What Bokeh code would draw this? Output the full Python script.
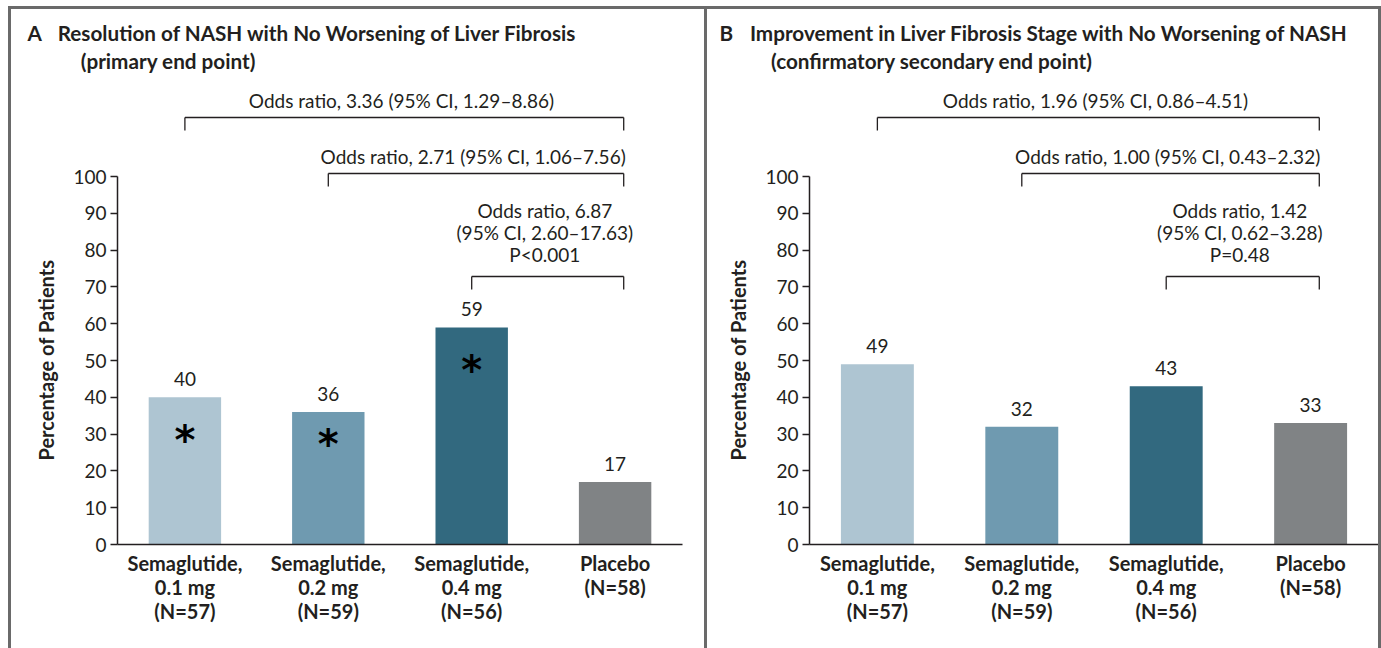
from bokeh.plotting import figure
from bokeh.layouts import row, column
from bokeh.models import FixedTicker, Title, Range1d
from bokeh.embed import file_html
from bokeh.resources import INLINE
from bokeh.core.properties import value

# ---------------- data ----------------
groups = ["Semaglutide,\n0.1 mg\n(N=57)", "Semaglutide,\n0.2 mg\n(N=59)",
          "Semaglutide,\n0.4 mg\n(N=56)", "Placebo\n(N=58)"]
bar_colors = ["#aec5d2", "#6f9ab0", "#32697f", "#808385"]
nash_resolution_pct = [40, 36, 59, 17]
fibrosis_improvement_pct = [49, 32, 43, 33]
asterisk_level = [30, 29, 49]          # significance markers in panel A (bars 1-3)
y_ticks = [0, 10, 20, 30, 40, 50, 60, 70, 80, 90, 100]

odds_A = ["Odds ratio, 3.36 (95% CI, 1.29\u20138.86)",
          "Odds ratio, 2.71 (95% CI, 1.06\u20137.56)",
          "Odds ratio, 6.87\n(95% CI, 2.60\u201317.63)\nP<0.001"]
odds_B = ["Odds ratio, 1.96 (95% CI, 0.86\u20134.51)",
          "Odds ratio, 1.00 (95% CI, 0.43\u20132.32)",
          "Odds ratio, 1.42\n(95% CI, 0.62\u20133.28)\nP=0.48"]

TXT = "#231f20"
FONT = "Lato"
BORDER = "3px solid #6a6a6a"

X0, X1 = -0.47, 3.47
PX_Y = 3.68            # pixels per percentage point
TOP_H = 66             # title strip height (content)
MAIN_H = 573           # chart height
FRAME_BOTTOM = 104
Y_TOP = (MAIN_H - FRAME_BOTTOM) / PX_Y


def title_strip(width, border_w, letter, t1, t2, xs, styles):
    t = figure(width=width + border_w, height=TOP_H + 3,
               x_range=Range1d(0, width), y_range=Range1d(TOP_H, 0),
               min_border=0, x_axis_type=None, y_axis_type=None,
               output_backend="svg", toolbar_location=None,
               outline_line_color=None, styles=styles)
    t.frame_align = False
    t.xgrid.visible = False
    t.ygrid.visible = False
    t.text(x=xs, y=[22, 22, 49], text=[letter, t1, t2],
           text_baseline="middle", text_align="left",
           text_font=value(FONT), text_font_style="bold",
           text_font_size="20.7px", text_color=TXT)
    return t


def make_panel(vals, odds, stars, width, border_w, mb_left, mb_right, styles):
    p = figure(width=width + border_w, height=MAIN_H,
               x_range=(X0, X1), y_range=(0, Y_TOP),
               min_border_left=mb_left, min_border_right=mb_right,
               min_border_top=0, min_border_bottom=FRAME_BOTTOM,
               output_backend="svg", toolbar_location=None,
               outline_line_color=None, styles=styles)
    p.frame_align = False

    def dy(page_y):
        return (544 - page_y) / PX_Y

    p.xgrid.visible = False
    p.ygrid.visible = False

    xs = list(range(len(vals)))
    p.vbar(x=xs, top=vals, width=0.505, fill_color=bar_colors, line_color=None)
    p.text(x=xs, y=vals, text=[str(v) for v in vals], text_align="center",
           text_baseline="middle", y_offset=-18, text_font=value(FONT),
           text_font_size="19px", text_color=TXT)

    if stars:
        p.text(x=xs[:len(stars)], y=stars, text=["*"] * len(stars),
               text_align="center", text_baseline="middle", y_offset=6,
               text_font=value("DejaVu Sans"), text_font_style="bold",
               text_font_size="40px", text_color="#000000")

    # comparison brackets against placebo
    levels = [dy(117), dy(173), dy(276)]
    drop = 13 / PX_Y
    right = xs[-1] + 0.06
    x0s, y0s, x1s, y1s = [], [], [], []
    for i, lv in enumerate(levels):
        x0s += [i, i, right]
        x1s += [right, i, right]
        y0s += [lv, lv, lv]
        y1s += [lv, lv - drop, lv - drop]
    p.segment(x0=x0s, y0=y0s, x1=x1s, y1=y1s, line_color=TXT, line_width=1.3)
    text_y = [dy(100), dy(156), dy(232)]
    p.text(x=[(i + right) / 2 - 0.02 for i in range(3)], y=text_y, text=odds,
           text_align="center", text_baseline="middle", text_font=value(FONT),
           text_font_size="19px", text_color=TXT, text_line_height=0.97)

    # axes
    ya = p.yaxis[0]
    ya.ticker = FixedTicker(ticks=y_ticks)
    ya.bounds = (0, 100)
    ya.major_tick_out = 7
    ya.major_tick_in = 0
    ya.minor_tick_line_color = None
    ya.axis_line_color = TXT
    ya.axis_line_width = 1.5
    ya.major_tick_line_color = TXT
    ya.major_tick_line_width = 1.3
    ya.major_label_text_font = FONT
    ya.major_label_text_font_size = "19px"
    ya.major_label_text_color = TXT
    ya.major_label_standoff = 4

    p.add_layout(Title(text="Percentage of Patients", align="left", offset=84,
                       text_font=FONT, text_font_style="bold",
                       text_font_size="20px", text_color=TXT, standoff=25),
                 "left")

    xa = p.xaxis[0]
    xa.ticker = FixedTicker(ticks=xs)
    xa.major_label_overrides = {i: g for i, g in enumerate(groups)}
    xa.major_tick_line_color = None
    xa.minor_tick_line_color = None
    xa.axis_line_color = TXT
    xa.axis_line_width = 1.5
    xa.major_label_text_font = FONT
    xa.major_label_text_font_style = "bold"
    xa.major_label_text_font_size = "20px"
    xa.major_label_text_color = TXT
    xa.major_label_text_line_height = 1.0
    xa.major_label_standoff = 0
    return p


t1 = title_strip(693, 3, "A",
                 "Resolution of NASH with No Worsening of Liver Fibrosis",
                 "(primary end point)", [16, 46, 69],
                 styles={"border-left": BORDER, "border-top": BORDER,
                         "margin-left": "8px", "margin-top": "6px"})
p1 = make_panel(nash_resolution_pct, odds_A, asterisk_level,
                width=693, border_w=3, mb_left=106, mb_right=25,
                styles={"border-left": BORDER, "margin-left": "8px"})
t2 = title_strip(671, 6, "B",
                 "Improvement in Liver Fibrosis Stage with No Worsening of NASH",
                 "(confirmatory secondary end point)", [12, 42, 63],
                 styles={"border-left": BORDER, "border-top": BORDER,
                         "border-right": BORDER, "margin-top": "6px"})
p2 = make_panel(fibrosis_improvement_pct, odds_B, None,
                width=671, border_w=6, mb_left=102, mb_right=6,
                styles={"border-left": BORDER, "border-right": BORDER})

layout = row(column(t1, p1), column(t2, p2))
open("out.html", "w").write(file_html(layout, INLINE))
